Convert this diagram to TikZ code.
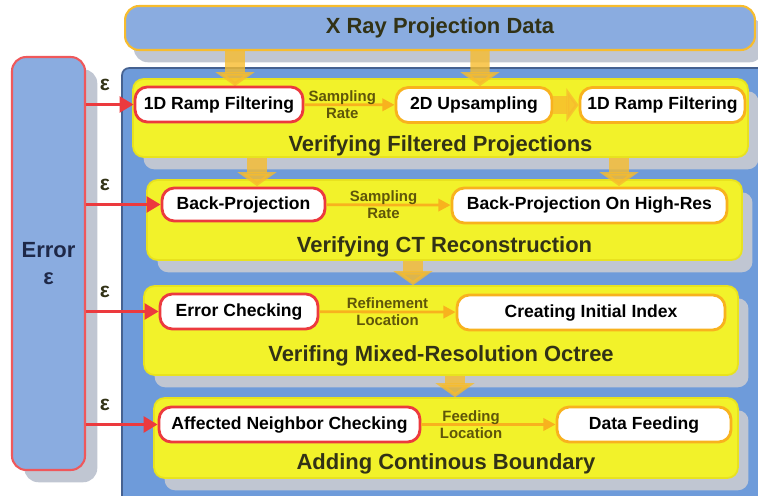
\documentclass[tikz,border=0pt]{standalone}
\usepackage{fontspec}
\setmainfont{Liberation Sans}
\usetikzlibrary{calc,shadows,arrows.meta}

\definecolor{boxblue}{RGB}{138,172,224}
\definecolor{baseblue}{RGB}{110,155,218}
\definecolor{baseline}{RGB}{70,98,145}
\definecolor{panelyellow}{RGB}{242,242,42}
\definecolor{panelrim}{RGB}{232,226,30}
\definecolor{shadowgray}{RGB}{192,198,210}
\definecolor{floworange}{RGB}{247,188,45}
\definecolor{linkorange}{RGB}{248,178,30}
\definecolor{errred}{RGB}{236,58,62}
\definecolor{labelolive}{RGB}{95,85,10}
\definecolor{titledark}{RGB}{50,50,22}
\definecolor{errtext}{RGB}{30,40,72}

\tikzset{
  shadowed/.style={drop shadow={shadow xshift=6pt,shadow yshift=-7pt,fill=shadowgray,opacity=1}},
  panel/.style={shadowed,fill=panelyellow,draw=panelrim,line width=1pt,rounded corners=6pt},
  paneltitle/.style={text=titledark,font=\bfseries\fontsize{12.5}{15}\selectfont},
  stage/.style={fill=white,draw=linkorange,line width=1.6pt,rounded corners=7pt,
    minimum height=0.7cm,font=\bfseries\fontsize{10}{12}\selectfont},
  errstage/.style={stage,draw=errred},
  link/.style={draw=linkorange,line width=1.6pt,-{Triangle[length=7pt,width=7pt]}},
  linklabel/.style={text=labelolive,align=center,inner sep=0pt,
    font=\bfseries\fontsize{8.5}{9.5}\selectfont},
  flow/.style={draw=floworange,line width=11pt,-{Triangle[length=8pt,width=22pt]},opacity=.8},
  errlink/.style={draw=errred,line width=1.8pt,-{Triangle[length=8pt,width=9pt]}},
  eps/.style={anchor=west,xshift=7pt,yshift=11pt,inner sep=0pt,text=titledark,
    font=\bfseries\fontsize{12}{14}\selectfont}
}

\begin{document}
\begin{tikzpicture}[x=0.02cm,y=-0.02cm]
  \useasboundingbox (0,0) rectangle (758,496);

  % containers
  \node[fill=baseblue,draw=baseline,line width=1pt,rounded corners=4pt,
    minimum width=12.96cm,minimum height=8.84cm] (base) at (446,289) {};
  \node[drop shadow={shadow xshift=5pt,shadow yshift=-7pt,fill=shadowgray,opacity=1},
    fill=boxblue,draw=floworange,line width=1.2pt,rounded corners=8pt,
    minimum width=12.6cm,minimum height=0.88cm,
    font=\bfseries\fontsize{12.5}{15}\selectfont,text=titledark] (xray) at (440,28) {X Ray Projection Data};
  \node[drop shadow={shadow xshift=7pt,shadow yshift=-7pt,fill=shadowgray,opacity=1},
    fill=boxblue,draw=errred!85!white,line width=1.2pt,rounded corners=8pt,
    minimum width=1.46cm,minimum height=8.26cm,align=center,
    font=\bfseries\fontsize{12.5}{15}\selectfont,text=errtext] (err) at (48.5,263.5) {Error\\ε};

  % stages
  \node[panel,minimum width=12.3cm,minimum height=1.56cm] (p1) at (440.5,118) {};
  \node[panel,minimum width=11.9cm,minimum height=1.6cm] (p2) at (444.5,220) {};
  \node[panel,minimum width=11.88cm,minimum height=1.78cm] (p3) at (441,330.5) {};
  \node[panel,minimum width=11.68cm,minimum height=1.6cm] (p4) at (446,438) {};

  \node[paneltitle] (t1) at ($(p1.south)+(0,-12)$) {Verifying Filtered Projections};
  \node[paneltitle] (t2) at ($(p2.south)+(0,-14)$) {Verifying CT Reconstruction};
  \node[paneltitle] (t3) at ($(p3.south)+(0,-20)$) {Verifing Mixed-Resolution Octree};
  \node[paneltitle] (t4) at ($(p4.south)+(0,-15)$) {Adding Continous Boundary};

  % data flow between stages
  \draw[flow] ($(xray.south)+(-205,0)$) -- ($(p1.north)+(-205.5,8)$);
  \draw[flow] ($(xray.south)+(40,0)$) -- ($(p1.north)+(39.5,8)$);
  \draw[flow] ($(p1.south)+(-183.5,0)$) -- ($(p2.north)+(-187.5,7)$);
  \draw[flow] ($(p1.south)+(178.5,0)$) -- ($(p2.north)+(174.5,7)$);
  \draw[flow] ($(p2.south)+(-31.5,0)$) -- ($(p3.north)+(-28,0)$);
  \draw[flow] ($(p3.south)+(14,0)$) -- ($(p4.north)+(9,0)$);

  \node[errstage,minimum width=3.36cm] (ramp1) at (219,104.5) {1D Ramp Filtering};
  \node[stage,minimum width=3.12cm] (up2d) at (474,105) {2D Upsampling};
  \node[stage,minimum width=3.3cm] (ramp2) at (662.5,105) {1D Ramp Filtering};
  \node[errstage,minimum width=3.26cm,minimum height=0.66cm] (bp) at (243.5,204.5) {Back-Projection};
  \node[stage,minimum width=5.5cm] (bphigh) at (589.5,205.5) {Back-Projection On High-Res};
  \node[errstage,minimum width=3.16cm] (errchk) at (239,311.5) {Error Checking};
  \node[stage,minimum width=5.36cm] (index) at (591,312.5) {Creating Initial Index};
  \node[errstage,minimum width=5.22cm] (nbr) at (289.5,424.5) {Affected Neighbor Checking};
  \node[stage,minimum width=3.48cm] (feed) at (644,424.5) {Data Feeding};

  \draw[link] (ramp1) -- (up2d) node[linklabel,pos=0.42] {Sampling\\Rate};
  \draw[flow,line width=10pt,-{Triangle[length=7pt,width=19pt]}] (up2d) -- (ramp2);
  \draw[link] (bp) -- (bphigh) node[linklabel,pos=0.46] {Sampling\\Rate};
  \draw[link] (errchk) -- (index) node[linklabel,midway] {Refinement\\Location};
  \draw[link] (nbr) -- (feed) node[linklabel,pos=0.37] {Feeding\\Location};

  % error feed
  \draw[errlink] (err.east |- ramp1) -- (ramp1) node[eps,at start] {ε};
  \draw[errlink] (err.east |- bp) -- (bp) node[eps,at start] {ε};
  \draw[errlink] (err.east |- errchk) -- (errchk) node[eps,at start] {ε};
  \draw[errlink] (err.east |- nbr) -- (nbr) node[eps,at start] {ε};
\end{tikzpicture}
\end{document}
